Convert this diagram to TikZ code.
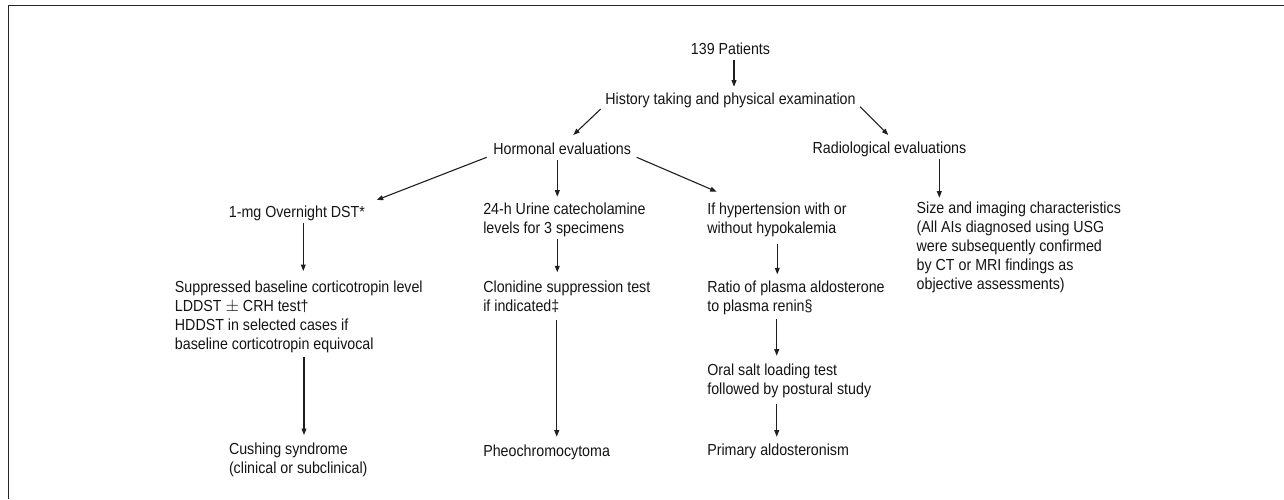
\documentclass[tikz,border=0pt]{standalone}
\usepackage{fontspec}
\setmainfont{Liberation Sans}[FakeStretch=0.89]
\usetikzlibrary{arrows.meta}
\begin{document}
\begin{tikzpicture}[x=1pt,y=-1pt,
  txt/.style={inner sep=0pt, outer sep=0pt, align=left, text=black!92,
    font=\fontsize{16}{18.9}\selectfont},
  arr/.style={line width=1.1pt, draw=black!88,
    -{Triangle[length=6.5pt,width=4.8pt]}},
  frame/.style={line width=1.5pt, draw=black!85}]
\useasboundingbox (0,0) rectangle (1284,499);
\draw[frame] (8.5,499) -- (8.5,5.5) -- (1284,5.5);

% multi-line nodes are placed by the baseline of their last line
\node[txt, anchor=base] (pat) at (730.5,54) {139 Patients};
\node[txt, anchor=base] (hist) at (730.5,104.5) {History taking and physical examination};
\node[txt, anchor=base west] (horm) at (493.3,154.3) {Hormonal evaluations};
\node[txt, anchor=base west] (rad) at (812.7,153.7) {Radiological evaluations};
\node[txt, anchor=base east] (dst) at (365,217.7) {1-mg Overnight DST*};
\node[txt, anchor=base west] (urine) at (483.3,233.3) {24-h Urine catecholamine\\levels for 3 specimens};
\node[txt, anchor=base west] (hyp) at (707.3,233.3) {If hypertension with or\\without hypokalemia};
\node[txt, anchor=base west] (size) at (916.7,289.3) {Size and imaging characteristics\\(All AIs diagnosed using USG\\were subsequently confirmed\\by CT or MRI findings as\\objective assessments)};
\node[txt, anchor=base east] (supp) at (422.7,349.3) {Suppressed baseline corticotropin level\\LDDST $\pm$ CRH test\textdagger\\HDDST in selected cases if\\baseline corticotropin equivocal};
\node[txt, anchor=base west] (clon) at (483.3,311) {Clonidine suppression test\\if indicated\textdaggerdbl};
\node[txt, anchor=base west] (ratio) at (707.3,311) {Ratio of plasma aldosterone\\to plasma renin\S};
\node[txt, anchor=base west] (oral) at (707.3,394.3) {Oral salt loading test\\followed by postural study};
\node[txt, anchor=base west] (cush) at (229,473.3) {Cushing syndrome\\(clinical or subclinical)};
\node[txt, anchor=base west] (pheo) at (483.3,456) {Pheochromocytoma};
\node[txt, anchor=base west] (prim) at (707.3,455.3) {Primary aldosteronism};

\draw[arr] ([shift={(3.5,6)}]pat.base) -- ([shift={(3.5,-17.8)}]hist.base);
\draw[arr] ([shift={(-129.8,4.5)}]hist.base) -- ([shift={(80,-19.3)}]horm.base west);
\draw[arr] ([shift={(129.5,2.2)}]hist.base) -- ([shift={(75.6,-18.7)}]rad.base west);
\draw[arr] ([shift={(-6.6,3)}]horm.base west) -- ([shift={(11.7,-17.7)}]dst.base east);
\draw[arr] ([shift={(64,5.7)}]horm.base west) -- ([shift={(74,-36.6)}]urine.base west);
\draw[arr] ([shift={(143.4,3)}]horm.base west) -- ([shift={(9.4,-41.6)}]hyp.base west);
\draw[arr] ([shift={(126.6,5.3)}]rad.base west) -- ([shift={(22.6,-91.6)}]size.base west);
\draw[arr] ([shift={(-61.7,5.6)}]dst.base east) -- ([shift={(-119.4,-78.3)}]supp.base east);
\draw[arr] ([shift={(-118.7,7.4)}]supp.base east) -- ([shift={(75,-38.3)}]cush.base west);
\draw[arr] ([shift={(74,5.7)}]urine.base west) -- ([shift={(74,-38.7)}]clon.base west);
\draw[arr] ([shift={(73.4,9)}]clon.base west) -- ([shift={(73.4,-19.3)}]pheo.base west);
\draw[arr] ([shift={(70,11)}]hyp.base west) -- ([shift={(70,-36.7)}]ratio.base west);
\draw[arr] ([shift={(69.4,8)}]ratio.base west) -- ([shift={(69.4,-38.6)}]oral.base west);
\draw[arr] ([shift={(69.4,9.7)}]oral.base west) -- ([shift={(69.4,-18.6)}]prim.base west);
\end{tikzpicture}
\end{document}
